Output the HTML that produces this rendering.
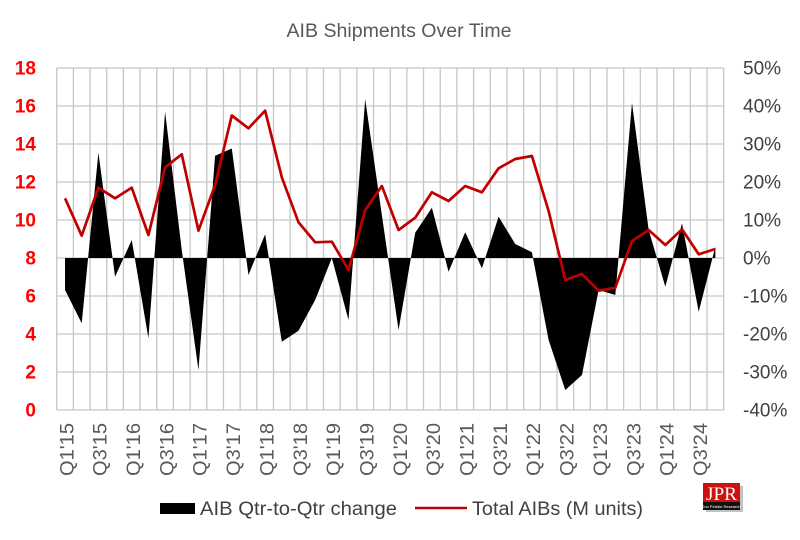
<!DOCTYPE html>
<html><head><meta charset="utf-8"><style>
html,body{margin:0;padding:0;background:#fff;}
svg{display:block;font-family:"Liberation Sans",Arial,sans-serif;}
</style></head><body>
<svg width="800" height="540" viewBox="0 0 800 540" xmlns="http://www.w3.org/2000/svg">
<rect x="0" y="0" width="800" height="540" fill="#fff"/>
<text x="399" y="37" text-anchor="middle" font-size="19.5" fill="#595959" textLength="225" lengthAdjust="spacingAndGlyphs">AIB Shipments Over Time</text>
<g id="grid" stroke="#c6c6c6" stroke-width="1.3"></g>
<path id="area" fill="#000"/>
<polyline id="line" fill="none" stroke="#c00000" stroke-width="2.7" stroke-linejoin="round"/>
<g id="left" font-size="19" font-weight="bold" fill="#ff0000" text-anchor="end"></g>
<g id="right" font-size="19" fill="#404040"></g>
<g id="xl" font-size="19" fill="#595959"></g>
<rect x="160" y="503" width="35" height="11" fill="#000"/>
<text x="200" y="515" font-size="19" fill="#404040" textLength="197" lengthAdjust="spacingAndGlyphs">AIB Qtr-to-Qtr change</text>
<line x1="415" y1="508" x2="467" y2="508" stroke="#c00000" stroke-width="2.6"/>
<text x="472" y="515" font-size="19" fill="#404040" textLength="171" lengthAdjust="spacingAndGlyphs">Total AIBs (M units)</text>
<rect x="706" y="486" width="37" height="26" fill="#9a9a9a" opacity="0.6"/>
<rect x="703" y="483" width="37" height="19" fill="#cc1111"/>
<rect x="703" y="502" width="37" height="8" fill="#111"/>
<text x="721.5" y="500" text-anchor="middle" font-family="Liberation Serif,serif" font-size="19" fill="#fff" textLength="31" lengthAdjust="spacingAndGlyphs">JPR</text>
<text x="721.5" y="508" text-anchor="middle" font-size="4" fill="#fff">Jon Peddie Research</text>
</svg>
<script>
(function(){
var NS="http://www.w3.org/2000/svg";
var L=56.7,W=16.675;
function X(i){return L+W*(i+0.5);}
var g=document.getElementById('grid');
for(var k=0;k<10;k++){var y=68+38*k;var l=document.createElementNS(NS,'line');l.setAttribute('x1',L);l.setAttribute('x2',L+W*40);l.setAttribute('y1',y);l.setAttribute('y2',y);g.appendChild(l);}
for(var j=0;j<=40;j++){var x=L+W*j;var l=document.createElementNS(NS,'line');l.setAttribute('x1',x);l.setAttribute('x2',x);l.setAttribute('y1',68);l.setAttribute('y2',410);g.appendChild(l);}
var red=[198.3,235.7,187.7,198.3,187.7,235,167.3,154.3,230.7,185,115.5,128.3,110.7,177.3,222.3,242.3,241.7,270,210,186,230,217.7,192.3,201,186,192.3,168.3,159,156,211,280,274,290.7,287.7,241,230,245,229.3,254.3,249];
var blk=[290,323.3,152.7,276.7,240,338.3,111.7,250,370,155.7,148.5,275,234.3,341.7,330.7,300,258,320,99.3,215,330,232.7,207.7,271.7,232.3,268.3,216.7,244,252.3,340,390,375,290,295,102.7,230,286.7,223.3,311.7,246.7];
var d='M'+X(0)+',258';
for(var i=0;i<40;i++){d+=' L'+X(i).toFixed(2)+','+blk[i];}
d+=' L'+X(39).toFixed(2)+',258 Z';
document.getElementById('area').setAttribute('d',d);
var p=[];for(var i=0;i<40;i++){p.push(X(i).toFixed(2)+','+red[i]);}
document.getElementById('line').setAttribute('points',p.join(' '));
var lg=document.getElementById('left'),rg=document.getElementById('right');
var pc=['50%','40%','30%','20%','10%','0%','-10%','-20%','-30%','-40%'];
for(var k=0;k<10;k++){var y=68+38*k;
var t=document.createElementNS(NS,'text');t.setAttribute('x',36);t.setAttribute('y',y+6.7);t.textContent=String(18-2*k);lg.appendChild(t);
var t2=document.createElementNS(NS,'text');t2.setAttribute('x',743);t2.setAttribute('y',y+6.7);t2.textContent=pc[k];rg.appendChild(t2);}
var xg=document.getElementById('xl');
for(var i=0;i<40;i+=2){var yr=15+Math.floor(i/4);var q=(i%4===0)?'Q1':'Q3';
var t=document.createElementNS(NS,'text');t.setAttribute('transform','translate('+(X(i)+8.3).toFixed(2)+',423) rotate(-90)');t.setAttribute('text-anchor','end');t.setAttribute('textLength','53');t.setAttribute('lengthAdjust','spacingAndGlyphs');t.textContent=q+"'"+yr;xg.appendChild(t);}
})();
</script>
</body></html>
